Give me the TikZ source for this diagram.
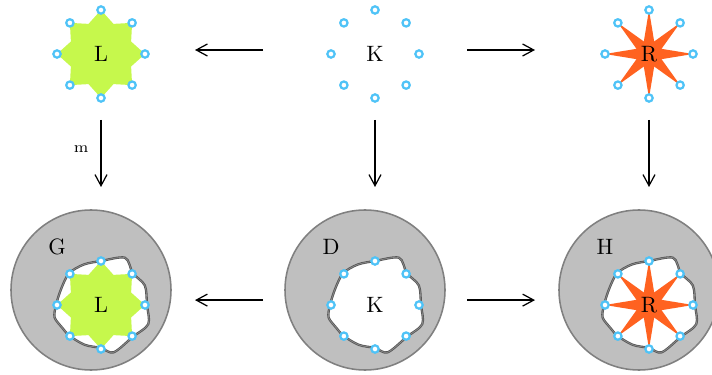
\documentclass[tikz,border=0pt]{standalone}
\usetikzlibrary{shapes.geometric, arrows.meta}

\definecolor{rulegreen}{RGB}{198,248,76}
\definecolor{ruleorange}{RGB}{255,98,32}
\definecolor{portblue}{RGB}{79,195,247}

\tikzset{
  port/.style={circle, draw=portblue, fill=white, line width=1pt, inner sep=0pt, minimum size=3.3pt},
  lhs/.style={star, star points=8, star point ratio=1.35, fill=rulegreen, inner sep=0pt, minimum size=39.6pt},
  rhs/.style={star, star points=8, star point ratio=3.25, fill=ruleorange, inner sep=0pt, minimum size=39.6pt},
  host/.style={circle, draw=gray, fill=gray!50, line width=0.7pt, inner sep=0pt, minimum size=72pt},
  hole/.style={draw=gray!70!black, double=gray!85, double distance=0.25pt, line width=0.4pt, fill=white},
  morph/.style={-{Straight Barb[length=5pt, width=5.4pt]}, line width=0.55pt},
}

\begin{document}
\begin{tikzpicture}[x=0.45pt, y=0.45pt]

\def\yt{320}; % top row
\def\yb{69}; % bottom row, inside the holes
\def\r{44}; % ring of ports

\useasboundingbox (0,0) rectangle (712,374);

% host graphs with a hole
\foreach \n/\x in {G/91, D/365, H/639} {
  \node[host] (\n) at (\x,84) {};
  \node (\n-name) at (\x-34,127) {\n};
  \draw[hole, shift={(\x+10,\yb)}] plot[smooth cycle] coordinates {(0:46) (24:48) (45:45) (63:53) (90:44) (113:44) (135:45) (157:43) (180:45) (195:48) (210:45) (225:44) (248:43) (270:43) (285:49) (315:45) (338:51)};
}

% rule L <- K -> R
\node[lhs] (L) at (101,\yt) {L};
\node (K) at (375,\yt) {K};
\node[rhs] (R) at (649,\yt) {R};

\node[lhs] (GL) at (101,\yb) {L};
\node (DK) at (375,\yb) {K};
\node[rhs] (HR) at (649,\yb) {R};

% interface ports
\foreach \v in {L,K,R,GL,DK,HR}
  \foreach \a in {0,45,...,315}
    \node[port] (\v-\a) at ([shift={(\a:\r)}]\v.center) {};

\draw[morph, shorten <=50.4pt, shorten >=42.3pt] ([yshift=1.8pt]K.center) -- ([yshift=1.8pt]L.center);
\draw[morph, shorten <=41.4pt, shorten >=51.3pt] ([yshift=1.8pt]K.center) -- ([yshift=1.8pt]R.center);
\draw[morph, shorten <=50.4pt, shorten >=42.3pt] ([yshift=2.2pt]DK.center) -- ([yshift=2.2pt]GL.center);
\draw[morph, shorten <=41.4pt, shorten >=51.3pt] ([yshift=2.2pt]DK.center) -- ([yshift=2.2pt]HR.center);

\draw[morph, shorten <=29.7pt, shorten >=53.1pt] (L.center) -- (GL.center) node[pos=0.38, left=2pt, font=\scriptsize] {m};
\draw[morph, shorten <=29.7pt, shorten >=53.1pt] (K.center) -- (DK.center);
\draw[morph, shorten <=29.7pt, shorten >=53.1pt] (R.center) -- (HR.center);

\end{tikzpicture}
\end{document}
